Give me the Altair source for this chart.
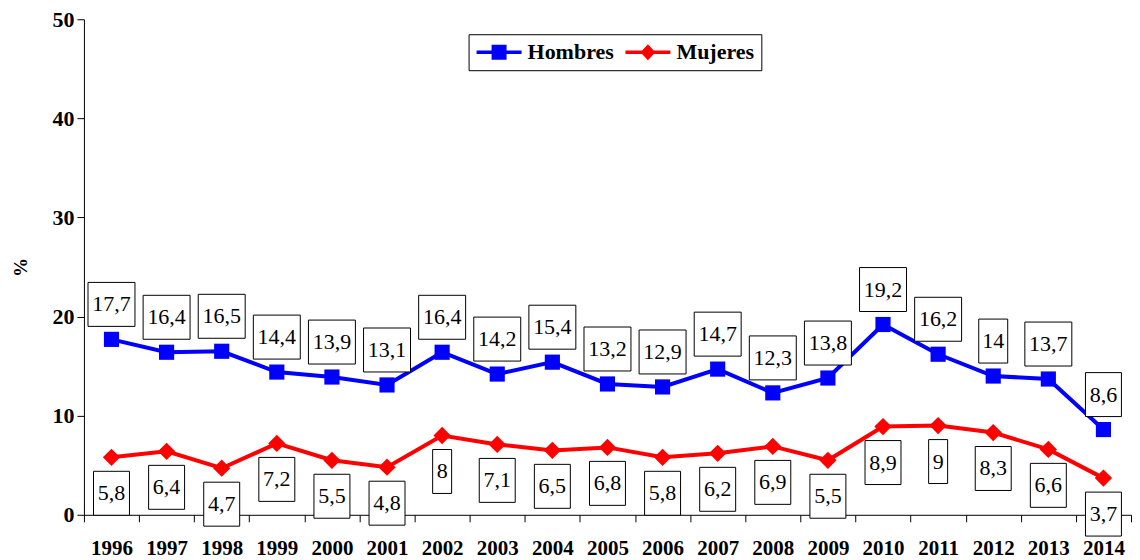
import altair as alt
import pandas as pd

years = [str(y) for y in range(1996, 2015)]
hombres = [17.7, 16.4, 16.5, 14.4, 13.9, 13.1, 16.4, 14.2, 15.4, 13.2, 12.9, 14.7, 12.3, 13.8, 19.2, 16.2, 14, 13.7, 8.6]
mujeres = [5.8, 6.4, 4.7, 7.2, 5.5, 4.8, 8, 7.1, 6.5, 6.8, 5.8, 6.2, 6.9, 5.5, 8.9, 9, 8.3, 6.6, 3.7]
series = ["Hombres", "Mujeres"]
colors = ["#0000FF", "#FF0000"]


def fmt(v):
    s = ("%g" % v)
    return s.replace(".", ",")


rows = []
for name, vals in zip(series, [hombres, mujeres]):
    for y, v in zip(years, vals):
        rows.append({"anio": y, "sexo": name, "valor": v, "etiqueta": fmt(v)})
df = pd.DataFrame(rows)

FONT = "Liberation Serif"

x = alt.X("anio:O", scale=alt.Scale(type="band", paddingInner=0, paddingOuter=0),
          axis=alt.Axis(title=None, labelAngle=0, tickBand="extent", tickSize=7,
                        tickColor="black", domainColor="black", labelColor="black",
                        labelFont=FONT, labelFontSize=21, labelFontWeight="bold",
                        labelPadding=16, grid=False))
y = alt.Y("valor:Q", scale=alt.Scale(domain=[0, 50], nice=False),
          axis=alt.Axis(title="%", values=[0, 10, 20, 30, 40, 50], tickSize=7,
                        tickColor="black", domainColor="black", labelColor="black",
                        labelFont=FONT, labelFontSize=22, labelFontWeight="bold",
                        labelPadding=3, grid=False, titleFont=FONT, titleFontSize=19,
                        titleFontWeight="bold", titleColor="black", titlePadding=21))

base = alt.Chart(df)

layers = []
# lines
for name, col in zip(series, colors):
    layers.append(base.transform_filter(alt.datum.sexo == name)
                  .mark_line(color=col, strokeWidth=4)
                  .encode(x=x, y=y))
# markers
layers.append(base.transform_filter(alt.datum.sexo == "Hombres")
              .mark_point(shape="square", filled=True, color=colors[0], size=230, opacity=1)
              .encode(x=x, y=y))
layers.append(base.transform_filter(alt.datum.sexo == "Mujeres")
              .mark_point(shape="diamond", filled=True, color=colors[1], size=300, opacity=1)
              .encode(x=x, y=y))

# label boxes (width follows the number of characters of the label)
hw = {1: 0.95, 2: 1.45, 3: 1.8, 4: 2.35}
for name, (y0, y1) in zip(series, [(-5.7, -1.3), (1.4, 5.8)]):
    for n, w in hw.items():
        layers.append(base.transform_filter(
            f"datum.sexo == '{name}' && length(datum.etiqueta) == {n}")
            .mark_point(filled=True, fill="white", stroke="black", strokeWidth=1, size=400,
                        opacity=1, shape=f"M{-w},{y0}H{w}V{y1}H{-w}Z")
            .encode(x=x, y=y))

# label texts
for name, dy in zip(series, [-35, 36]):
    layers.append(base.transform_filter(alt.datum.sexo == name)
                  .mark_text(font=FONT, fontSize=22, color="black", dy=dy, baseline="middle")
                  .encode(x=x, y=y, text="etiqueta:N"))

# legend layer (no marks drawn, scales carry the legend)
leg_paths = [
    "M-1,-0.17H3.5V0.17H-1Z M0.5,-0.75H2V0.75H0.5Z",
    "M-1,-0.17H3.5V0.17H-1Z M1.25,-0.8L2,0L1.25,0.8L0.5,0Z",
]
legend = alt.Legend(title=None, orient="none", legendX=385, legendY=15, direction="horizontal",
                    symbolSize=400, symbolStrokeWidth=0, labelOffset=30,
                    labelFont=FONT, labelFontSize=22, labelFontWeight="bold", labelColor="black",
                    strokeColor="black", fillColor="white", padding=7, columnPadding=10,
                    cornerRadius=0)
layers.append(base.transform_filter("false")
              .mark_point(filled=True, size=400, opacity=1)
              .encode(x=x, y=y,
                      color=alt.Color("sexo:N", scale=alt.Scale(domain=series, range=colors), legend=legend),
                      shape=alt.Shape("sexo:N", scale=alt.Scale(domain=series, range=leg_paths), legend=legend)))

chart = alt.layer(*layers).properties(
    width=1048, height=496, padding={"left": 4, "top": 0, "right": 0, "bottom": 0},
    background="white"
).configure_view(stroke=None)

chart.save("out.html", embed_options={"renderer": "svg", "actions": False})
